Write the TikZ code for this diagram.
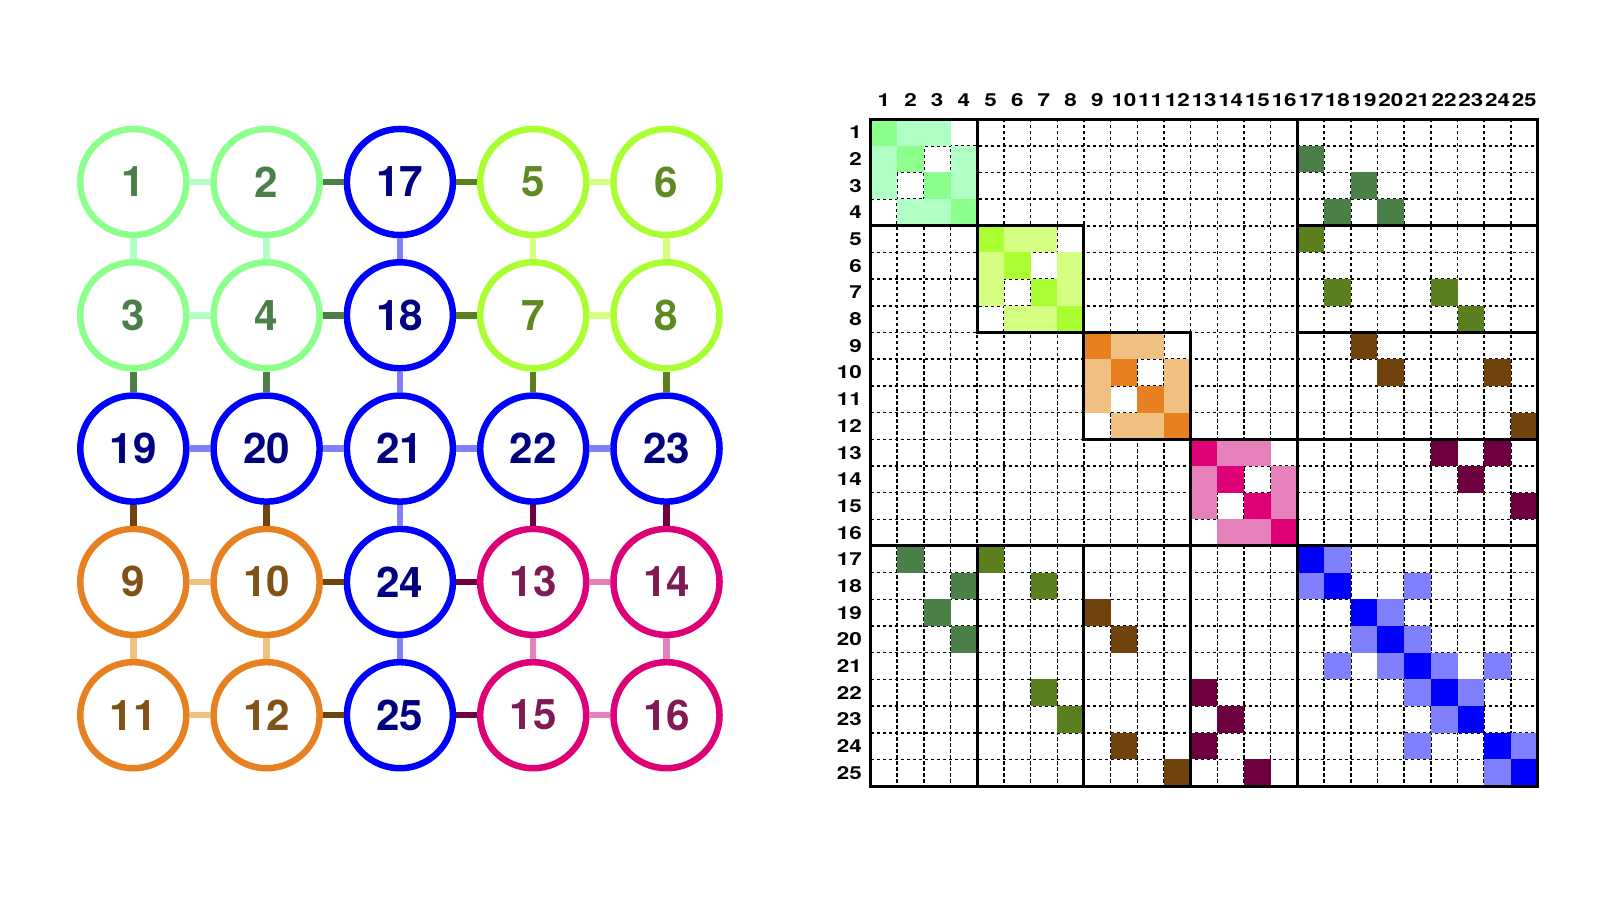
\documentclass[tikz,border=0pt]{standalone}
\usepackage{fontspec}
\setmainfont{TeX Gyre Heros}
\newfontfamily\lblfont[FakeStretch=1.25]{TeX Gyre Heros}
\usepackage{xcolor}
\usetikzlibrary{positioning}

% group colours: circle / light edge / cross edge / text
\definecolor{ga}{HTML}{8CFF8C}\definecolor{gal}{HTML}{B0FFC4}\definecolor{gad}{HTML}{4A8048}\definecolor{gat}{HTML}{4A7F4A}
\definecolor{gb}{HTML}{AAFF33}\definecolor{gbl}{HTML}{D4FF80}\definecolor{gbd}{HTML}{5A801E}\definecolor{gbt}{HTML}{5F8A22}
\definecolor{gc}{HTML}{E68020}\definecolor{gcl}{HTML}{F0C080}\definecolor{gcd}{HTML}{70420C}\definecolor{gct}{HTML}{805218}
\definecolor{gd}{HTML}{DD0077}\definecolor{gdl}{HTML}{E680BB}\definecolor{gdd}{HTML}{6E0040}\definecolor{gdt}{HTML}{7F1A55}
\definecolor{ge}{HTML}{0000FF}\definecolor{gel}{HTML}{8080FF}\definecolor{get}{HTML}{000080}

\tikzset{
    vtx/.style={circle, draw=#1, text=#1t, line width=0.065cm, minimum size=1.06cm, inner sep=0pt,
        font=\bfseries\fontsize{12}{14}\selectfont},
    edge/.style={draw=#1, line width=0.065cm},
    gridline/.style={line width=0.015cm, dash pattern=on 0.033cm off 0.027cm},
    blockline/.style={line width=0.03cm},
    lbl/.style={inner sep=0pt, font={\lblfont\fontsize{5.1}{6}\selectfont\bfseries}}
}

% label/group, row by row
\def\nodelist{1/ga, 2/ga, 17/ge, 5/gb, 6/gb,
    3/ga, 4/ga, 18/ge, 7/gb, 8/gb,
    19/ge, 20/ge, 21/ge, 22/ge, 23/ge,
    9/gc, 10/gc, 24/ge, 13/gd, 14/gd,
    11/gc, 12/gc, 25/ge, 15/gd, 16/gd}
% a/b/colour
\def\edgelist{1/2/gal, 1/3/gal, 2/4/gal, 3/4/gal,
    5/6/gbl, 5/7/gbl, 6/8/gbl, 7/8/gbl,
    9/10/gcl, 9/11/gcl, 10/12/gcl, 11/12/gcl,
    13/14/gdl, 13/15/gdl, 14/16/gdl, 15/16/gdl,
    17/18/gel, 18/21/gel, 19/20/gel, 20/21/gel, 21/22/gel, 22/23/gel, 21/24/gel, 24/25/gel,
    2/17/gad, 4/18/gad, 3/19/gad, 4/20/gad,
    5/17/gbd, 7/18/gbd, 7/22/gbd, 8/23/gbd,
    9/19/gcd, 10/20/gcd, 10/24/gcd, 12/25/gcd,
    13/22/gdd, 14/23/gdd, 13/24/gdd, 15/25/gdd}

\begin{document}
\begin{tikzpicture}[x=0.01cm, y=-0.01cm]
    \useasboundingbox (0,0) rectangle (1600,900);

    % graph
    \foreach \lbl/\grp [count=\i from 0] in \nodelist {
        \pgfmathtruncatemacro\col{mod(\i,5)}
        \pgfmathtruncatemacro\row{div(\i,5)}
        \node[vtx=\grp] (n\lbl) at ({133.3+133.3*\col}, {182+133.3*\row}) {\lbl};
    }
    \foreach \a/\b/\s in \edgelist
        \draw[edge=\s] (n\a) -- (n\b);

    % matrix
    \begin{scope}[shift={(8.7cm,-1.19cm)}, x=0.26667cm, y=-0.26667cm]
        \foreach \k in {1,...,24} {
            \draw[gridline] (\k,0) -- (\k,25);
            \draw[gridline] (0,\k) -- (25,\k);
        }
        \foreach \lbl/\grp in \nodelist
            \fill[\grp] (\lbl-1,\lbl-1) rectangle (\lbl,\lbl);
        \foreach \a/\b/\s in \edgelist {
            \fill[\s] (\b-1,\a-1) rectangle (\b,\a);
            \fill[\s] (\a-1,\b-1) rectangle (\a,\b);
        }
        \draw[blockline] (0,0) rectangle (25,25);
        \foreach \k in {0,4,8,12}
            \draw[blockline] (\k,\k) rectangle (\k+4,\k+4);
        \draw[blockline] (16,0) -- (16,25) (0,16) -- (25,16);
        \foreach \k in {4,8,12}
            \draw[blockline] (\k,16) -- (\k,25) (16,\k) -- (25,\k);
        \foreach \k in {1,...,25} {
            \node[lbl] (c\k) at (\k-0.5,-0.7) {\k};
            \node[lbl, anchor=east] (r\k) at (-0.3,\k-0.5) {\k};
        }
    \end{scope}
\end{tikzpicture}
\end{document}
